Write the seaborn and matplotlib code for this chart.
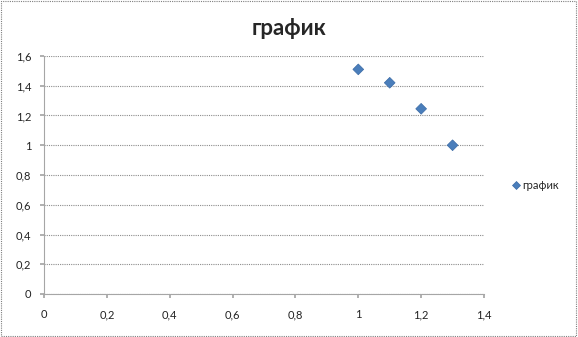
import matplotlib
matplotlib.use("Agg")
import matplotlib.pyplot as plt
import seaborn as sns
import pandas as pd
from matplotlib.ticker import FuncFormatter, MultipleLocator
from matplotlib.patches import Rectangle

x_vals = [1.0, 1.1, 1.2, 1.3]
y_vals = [1.51, 1.42, 1.245, 1.0]
series_name = "график"
title = "график"

df = pd.DataFrame({"x": x_vals, "y": y_vals, "s": [series_name] * len(x_vals)})

sns.set_theme(style="white")
plt.rcParams['font.family'] = ['Lato', 'DejaVu Sans']

fig = plt.figure(figsize=(5.78, 3.37), dpi=100)
ax = fig.add_axes([44/578, 43/337, 440/578, 238/337])

sns.scatterplot(data=df, x="x", y="y", hue="s", palette=["#4a7ebb"], marker="D",
                s=30, edgecolor="#3a6aa5", linewidth=0.5, ax=ax)

ax.set_xlim(0, 1.4)
ax.set_ylim(0, 1.6)
ax.xaxis.set_major_locator(MultipleLocator(0.2))
ax.yaxis.set_major_locator(MultipleLocator(0.2))
fmt = FuncFormatter(lambda v, p: ("%g" % round(v, 2)).replace(".", ","))
ax.xaxis.set_major_formatter(fmt)
ax.yaxis.set_major_formatter(fmt)
ax.set_xlabel("")
ax.set_ylabel("")
ax.grid(axis="y", color="#8c8c8c", linestyle=(0, (1, 1)), linewidth=0.8)
ax.set_axisbelow(True)
for side in ["top", "right"]:
    ax.spines[side].set_visible(False)
for side in ["left", "bottom"]:
    ax.spines[side].set_color("#a6a6a6")
    ax.spines[side].set_linewidth(0.8)
ax.tick_params(axis="both", which="major", length=3, direction="out", color="#a6a6a6",
               labelsize=8, labelcolor="#222222", pad=8, bottom=True, left=True)
ax.tick_params(axis="y", pad=6)

fig.suptitle(title, x=0.5, y=0.915, fontsize=16, fontweight="bold", va="center")

leg = ax.legend(loc="center left", bbox_to_anchor=(1.04, 0.455), frameon=False,
                fontsize=8, handlelength=0.8, handletextpad=0.2, markerscale=0.7)

fig.patches.append(Rectangle((0.002, 0.003), 0.995, 0.993, transform=fig.transFigure,
                             fill=False, edgecolor="#7f7f7f", linestyle=(0, (1, 1)),
                             linewidth=0.8))

fig.savefig("out.png", dpi=100)
